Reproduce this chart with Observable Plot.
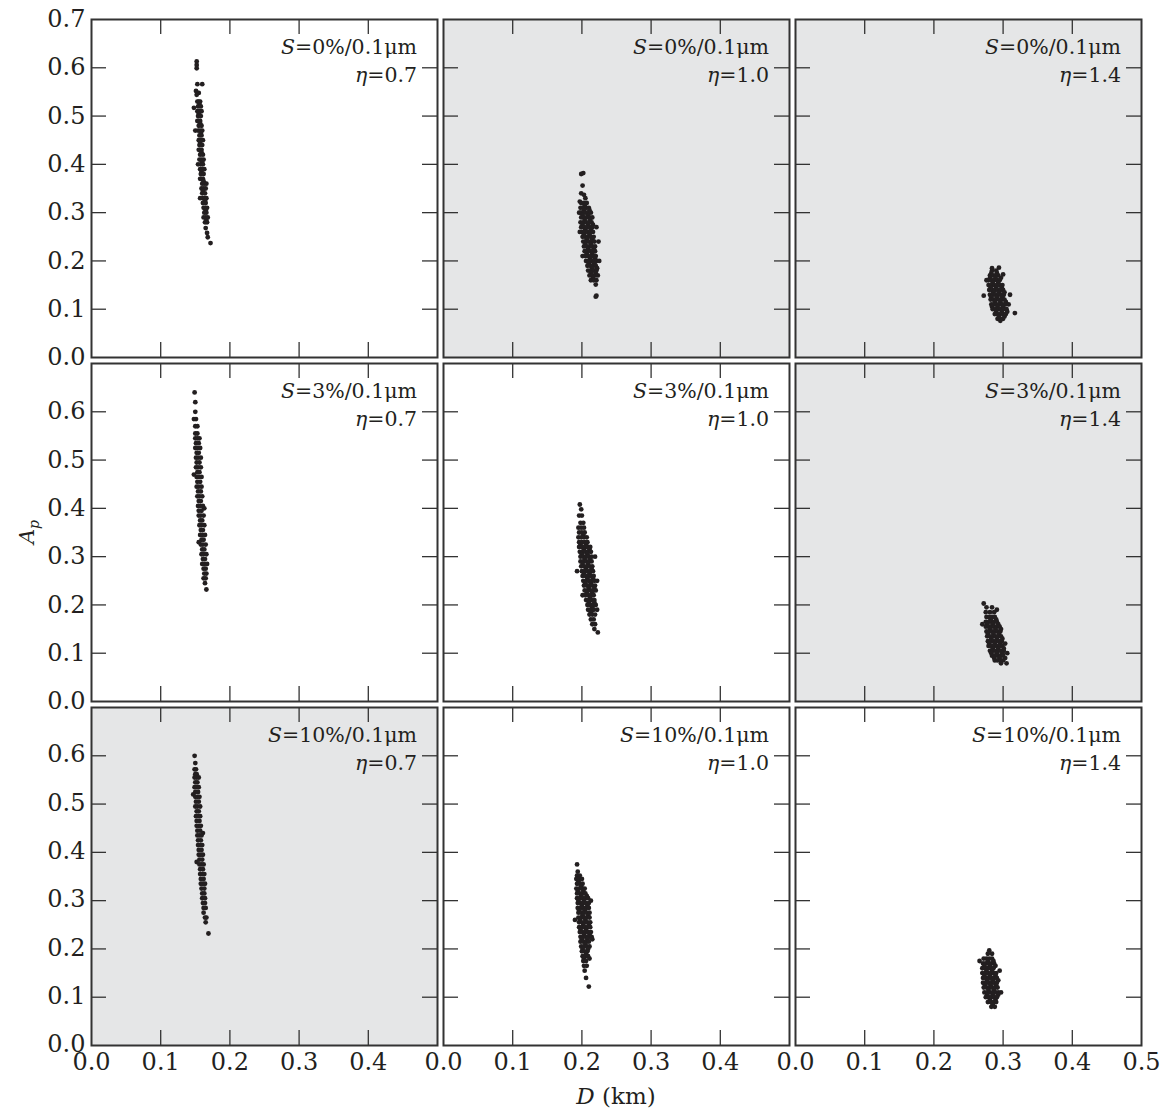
<!DOCTYPE html>
<html><head><meta charset="utf-8">
<script src="https://cdn.jsdelivr.net/npm/d3@7"></script>
<script src="https://cdn.jsdelivr.net/npm/@observablehq/plot@0.6"></script>
<style>
body{margin:0;background:#fff;}
#fig{position:relative;width:1167px;height:1113px;overflow:hidden;font-family:"DejaVu Serif",serif;}
#fig svg{position:absolute;overflow:visible;}
</style></head><body><div id="fig"></div>
<script>
// ---- data: each panel as levels [A_p, [D values (km)]] ----
const sLabels = ["0%", "3%", "10%"];      // rows
const etaLabels = ["0.7", "1.0", "1.4"];  // columns
const shaded = [[false, true, true], [false, false, true], [true, false, false]];
const xTicks = [0.1, 0.2, 0.3, 0.4];
const yTicks = [0.1, 0.2, 0.3, 0.4, 0.5, 0.6];
const xLabelsInner = [0.0, 0.1, 0.2, 0.3, 0.4];
const xLabelsLast = [0.0, 0.1, 0.2, 0.3, 0.4, 0.5];
const yLabelsTop = [0.0, 0.1, 0.2, 0.3, 0.4, 0.5, 0.6, 0.7];
const yLabelsRest = [0.0, 0.1, 0.2, 0.3, 0.4, 0.5, 0.6];

const p00 = [
 [.613,[.152]],[.606,[.152]],[.599,[.152]],[.566,[.153,.160]],[.552,[.151]],[.548,[.153,.155]],[.544,[.152]],[.517,[.148]],
 [.53,[.153,.157,.155]],[.525,[.156]],[.52,[.154,.158]],[.51,[.153,.156,.159]],[.505,[.155]],[.50,[.154,.158]],
 [.49,[.155,.157,.153]],[.485,[.157]],[.48,[.155,.159]],[.47,[.154,.157,.160,.150]],[.465,[.158]],[.46,[.156,.159]],
 [.45,[.155,.158,.161]],[.445,[.157]],[.44,[.156,.160]],[.43,[.157,.159,.155]],[.425,[.159]],[.42,[.157,.161]],
 [.41,[.156,.159,.162]],[.405,[.160]],[.40,[.158,.161,.154]],[.39,[.157,.160,.163]],[.385,[.159]],[.38,[.158,.162]],
 [.37,[.159,.161,.157]],[.365,[.162]],[.36,[.160,.163,.166]],[.35,[.159,.162,.165]],[.345,[.161]],[.34,[.160,.164]],
 [.33,[.161,.163,.166,.157]],[.325,[.164]],[.32,[.161,.165]],[.31,[.162,.164,.167]],[.305,[.165]],[.30,[.163,.166]],
 [.29,[.162,.165,.168]],[.285,[.166]],[.28,[.164,.167]],[.268,[.165]],[.258,[.167]],[.249,[.168]],[.237,[.172]]
];
const p01 = [
 [.382,[.202]],[.380,[.199]],[.356,[.201]],[.340,[.199]],[.337,[.203]],[.330,[.205]],[.323,[.197]],
 [.32,[.199,.203,.207]],[.315,[.204]],[.31,[.198,.202,.206,.210]],[.305,[.203,.211]],[.30,[.198,.201,.205,.209,.213,.196]],
 [.295,[.201,.209]],[.29,[.199,.203,.207,.211,.215]],[.285,[.204,.212]],[.28,[.198,.202,.206,.210,.214]],
 [.275,[.201,.209,.216]],[.27,[.199,.203,.207,.211,.215,.221]],[.265,[.205,.213]],[.26,[.200,.204,.208,.212,.216,.197]],
 [.255,[.203,.211]],[.25,[.201,.205,.209,.213,.217]],[.245,[.207,.215]],[.24,[.202,.206,.210,.214,.218,.224]],
 [.235,[.205,.213]],[.23,[.203,.207,.211,.215,.219]],[.225,[.209,.217]],[.22,[.204,.208,.212,.216,.219]],
 [.215,[.207,.215]],[.21,[.205,.209,.213,.217,.220,.201]],[.205,[.212,.219]],[.20,[.206,.210,.214,.218,.221,.225]],
 [.195,[.210,.218]],[.19,[.208,.212,.216,.220]],[.185,[.215,.222]],[.18,[.209,.213,.217,.221]],[.175,[.213,.220]],
 [.17,[.211,.215,.219,.223]],[.165,[.216]],[.16,[.213,.217,.221]],[.151,[.220]],[.128,[.221]],[.126,[.220]]
];
const p02 = [
 [.186,[.294]],[.185,[.284]],[.18,[.284,.290]],[.175,[.283,.291]],[.172,[.300]],[.17,[.281,.285,.289,.293]],
 [.165,[.281,.289,.297]],[.16,[.279,.283,.287,.291,.295,.276]],[.155,[.285,.293]],[.15,[.279,.283,.287,.291,.295,.299]],
 [.145,[.282,.290,.298]],[.14,[.280,.284,.288,.292,.296,.300]],[.135,[.286,.294,.302]],[.13,[.281,.285,.289,.293,.297,.301,.310]],
 [.128,[.272]],[.125,[.283,.291,.299]],[.12,[.282,.286,.290,.294,.298,.302]],[.115,[.288,.296,.304]],
 [.11,[.283,.287,.291,.295,.299,.303,.308]],[.105,[.284,.292,.300]],[.10,[.285,.289,.293,.297,.301,.305]],
 [.095,[.290,.298,.306]],[.092,[.317]],[.09,[.288,.292,.296,.300,.304]],[.085,[.294,.302]],[.08,[.292,.296,.300]],[.076,[.296]]
];
const p10 = [
 [.640,[.149]],[.620,[.150]],[.600,[.150]],[.585,[.151,.148]],[.570,[.150,.153]],[.555,[.150,.153]],[.545,[.150,.153,.156]],[.535,[.151,.155]],
 [.525,[.150,.153,.157]],[.515,[.152,.155]],[.505,[.151,.154,.158]],[.495,[.152,.156]],[.485,[.151,.154,.158]],
 [.475,[.153,.156]],[.47,[.148]],[.465,[.152,.155,.159]],[.455,[.153,.157]],[.445,[.152,.155,.159]],[.435,[.154,.158]],
 [.425,[.153,.156,.160]],[.415,[.155,.158]],[.405,[.154,.157,.161]],[.40,[.163]],[.395,[.155,.159]],[.385,[.155,.158,.162]],
 [.375,[.157,.160]],[.365,[.156,.159,.163]],[.355,[.158,.161]],[.345,[.157,.160,.164]],[.335,[.159,.162]],[.33,[.155]],
 [.325,[.158,.161,.165]],[.315,[.160,.163]],[.305,[.159,.162,.166]],[.295,[.161,.164]],[.285,[.160,.163,.167]],
 [.275,[.162,.165]],[.265,[.163,.166]],[.255,[.162,.165]],[.245,[.164]],[.232,[.166]]
];
const p11 = [
 [.408,[.197]],[.398,[.199]],[.385,[.196,.200]],[.37,[.198,.202]],[.36,[.195,.199,.203]],[.35,[.196,.200,.204]],[.345,[.202]],
 [.34,[.195,.199,.203,.207]],[.33,[.196,.200,.204,.208]],[.325,[.198,.206]],[.32,[.196,.200,.204,.208,.212]],[.315,[.203,.211]],
 [.31,[.197,.201,.205,.209,.213]],[.305,[.200,.208]],[.30,[.198,.202,.206,.210,.214,.219]],[.295,[.204,.212]],
 [.29,[.198,.202,.206,.210,.214]],[.285,[.201,.209]],[.28,[.199,.203,.207,.211,.215]],[.275,[.206,.214]],
 [.27,[.200,.204,.208,.212,.216,.193]],[.265,[.203,.211]],[.26,[.201,.205,.209,.213,.217]],[.255,[.208,.216]],
 [.25,[.202,.206,.210,.214,.218,.222]],[.245,[.205,.213]],[.24,[.203,.207,.211,.215,.219]],[.235,[.210,.218]],
 [.23,[.204,.208,.212,.216,.220]],[.225,[.207,.215]],[.22,[.205,.209,.213,.217,.201]],[.215,[.212]],
 [.21,[.206,.210,.214,.218]],[.205,[.210,.218]],[.20,[.208,.212,.216,.220]],[.195,[.215]],[.19,[.209,.213,.217,.222]],
 [.185,[.213]],[.18,[.211,.215,.219]],[.17,[.213,.217]],[.16,[.215,.219]],[.15,[.218]],[.143,[.223]]
];
const p12 = [
 [.203,[.272]],[.195,[.276,.284]],[.19,[.291]],[.185,[.275,.281,.287]],[.175,[.276,.280,.284,.288]],[.17,[.282,.290]],
 [.165,[.275,.279,.283,.287,.291]],[.16,[.277,.285,.293,.270]],[.155,[.275,.279,.283,.287,.291,.295]],[.15,[.281,.289,.297]],
 [.145,[.276,.280,.284,.288,.292,.296]],[.14,[.278,.286,.294]],[.135,[.277,.281,.285,.289,.293,.297]],[.13,[.283,.291,.299]],
 [.125,[.278,.282,.286,.290,.294,.298]],[.12,[.280,.288,.296,.303]],[.115,[.279,.283,.287,.291,.295,.299]],
 [.11,[.285,.293,.301]],[.105,[.281,.285,.289,.293,.297,.301]],[.10,[.283,.291,.299,.306]],[.095,[.284,.288,.292,.296,.300]],
 [.09,[.287,.295,.303]],[.085,[.288,.292,.296,.300]],[.079,[.297,.305]]
];
const p20 = [
 [.600,[.149]],[.585,[.150]],[.572,[.149,.151]],[.562,[.150,.152]],[.555,[.149,.152,.155]],[.545,[.150,.153]],
 [.535,[.149,.152,.155]],[.525,[.150,.154]],[.52,[.147]],[.515,[.150,.153,.156]],[.505,[.151,.155]],[.495,[.150,.153,.157]],
 [.485,[.152,.155]],[.475,[.151,.154,.157]],[.465,[.152,.156]],[.455,[.152,.155,.158]],[.445,[.153,.157]],[.44,[.161]],
 [.435,[.153,.156,.159]],[.425,[.154,.158]],[.415,[.154,.157,.160]],[.405,[.155,.159]],[.395,[.155,.158,.161]],
 [.385,[.156,.160]],[.38,[.152]],[.375,[.156,.159,.162]],[.365,[.157,.161]],[.355,[.157,.160,.163]],[.345,[.158,.162]],
 [.335,[.158,.161,.164]],[.325,[.159,.163]],[.315,[.160,.163]],[.305,[.160,.164]],[.295,[.161,.164]],[.285,[.162,.165]],
 [.275,[.162]],[.265,[.164,.166]],[.255,[.165]],[.232,[.169]]
];
const p21 = [
 [.375,[.193]],[.360,[.194]],[.352,[.193,.197]],[.345,[.192,.196,.200]],[.34,[.195]],[.335,[.193,.197,.201]],[.33,[.199]],
 [.325,[.192,.196,.200,.204]],[.32,[.194,.202]],[.315,[.193,.197,.201,.205]],[.31,[.199,.207]],
 [.305,[.193,.197,.201,.205,.209]],[.30,[.195,.203,.213]],[.295,[.194,.198,.202,.206,.210]],[.29,[.200,.208]],
 [.285,[.194,.198,.202,.206,.210]],[.28,[.196,.204]],[.275,[.195,.199,.203,.207,.211]],[.27,[.201,.209]],
 [.265,[.195,.199,.203,.207,.211]],[.26,[.197,.205,.190]],[.255,[.196,.200,.204,.208,.212]],[.25,[.202,.210]],
 [.245,[.196,.200,.204,.208,.212]],[.24,[.198,.206]],[.235,[.197,.201,.205,.209,.213]],[.23,[.203,.211]],
 [.225,[.198,.202,.206,.210,.214]],[.22,[.200,.208,.215]],[.215,[.198,.202,.206,.210]],[.21,[.205]],
 [.205,[.199,.203,.207,.211]],[.20,[.201,.209]],[.195,[.200,.204,.208]],[.19,[.206]],[.185,[.201,.205,.209]],
 [.18,[.203,.211]],[.175,[.202,.206]],[.165,[.203,.207]],[.155,[.204]],[.14,[.206]],[.122,[.210]]
];
const p22 = [
 [.197,[.280]],[.19,[.278,.284]],[.18,[.272,.276,.280,.284]],[.175,[.278,.286,.266]],[.17,[.271,.275,.279,.283,.287]],
 [.165,[.273,.281,.289]],[.16,[.270,.274,.278,.282,.286]],[.155,[.276,.284,.295]],[.15,[.270,.274,.278,.282,.286,.290]],
 [.145,[.273,.281,.289]],[.14,[.271,.275,.279,.283,.287,.291]],[.135,[.277,.285,.293]],[.13,[.271,.275,.279,.283,.287,.291]],
 [.125,[.274,.282,.290]],[.12,[.272,.276,.280,.284,.288,.292]],[.115,[.279,.287]],[.11,[.273,.277,.281,.285,.289,.293,.297]],
 [.105,[.277,.285,.293]],[.10,[.275,.279,.283,.287,.291]],[.095,[.281,.289]],[.09,[.278,.282,.286,.290]],[.085,[.285]],
 [.08,[.283,.288]]
];
const panels = [[p00, p01, p02], [p10, p11, p12], [p20, p21, p22]];

// ---- layout ----
const W = 346, H = 338, TL = 15;
const colLeft = [91, 443, 795];
const rowTop = [19, 363, 707];
const ML = 70, MR = 30, MT = 15, MB = 45;
const ink = "#231f20", frameInk = "#333333", grey = "#e5e6e7";
const FONT = "DejaVu Serif";

const fig = document.getElementById("fig");

for (let r = 0; r < 3; r++) {
  for (let c = 0; c < 3; c++) {
    const pts = panels[r][c].flatMap(([A, Ds]) => Ds.map(D => ({D, A})));
    const marks = [
      Plot.frame({fill: shaded[r][c] ? grey : "white", stroke: null}),
      Plot.dot(pts, {x: "D", y: "A", r: 2.4, fill: ink, stroke: null}),
      Plot.tickX(xTicks, {x: d => d, insetTop: H - TL, stroke: frameInk, strokeWidth: 1.3}),
      Plot.tickX(xTicks, {x: d => d, insetBottom: H - TL, stroke: frameInk, strokeWidth: 1.3}),
      Plot.tickY(yTicks, {y: d => d, insetRight: W - TL, stroke: frameInk, strokeWidth: 1.3}),
      Plot.tickY(yTicks, {y: d => d, insetLeft: W - TL, stroke: frameInk, strokeWidth: 1.3}),
      Plot.frame({stroke: frameInk, strokeWidth: 2})
    ];
    if (r === 2) {
      marks.push(Plot.text(c === 2 ? xLabelsLast : xLabelsInner, {
        x: d => d, text: d => d.toFixed(1), frameAnchor: "bottom", lineAnchor: "top",
        dy: 7, fontSize: 24, fill: ink
      }));
    }
    if (c === 0) {
      marks.push(Plot.text(r === 0 ? yLabelsTop : yLabelsRest, {
        y: d => d, text: d => d.toFixed(1), frameAnchor: "left", textAnchor: "end",
        dx: -6, dy: (r === 2 ? -1 : 0), fontSize: 24, fill: ink
      }));
    }
    const svg = Plot.plot({
      width: W + ML + MR, height: H + MT + MB,
      marginLeft: ML, marginRight: MR, marginTop: MT, marginBottom: MB,
      x: {domain: [0, 0.5], axis: null},
      y: {domain: [0, 0.7], axis: null},
      style: {background: "transparent", fontFamily: FONT, fontSize: "24px", color: ink},
      marks
    });
    svg.style.left = (colLeft[c] - ML) + "px";
    svg.style.top = (rowTop[r] - MT) + "px";
    const s = d3.select(svg);
    const t1 = s.append("text").attr("x", ML + W - 20).attr("y", MT + 35)
      .attr("text-anchor", "end").attr("font-size", 20.5).attr("font-family", FONT).attr("fill", ink);
    t1.append("tspan").attr("font-style", "italic").text("S");
    t1.append("tspan").text("=" + sLabels[r] + "/0.1μm");
    const t2 = s.append("text").attr("x", ML + W - 20).attr("y", MT + 63)
      .attr("text-anchor", "end").attr("font-size", 20.5).attr("font-family", FONT).attr("fill", ink);
    t2.append("tspan").attr("font-style", "italic").text("η");
    t2.append("tspan").text("=" + etaLabels[c]);
    fig.appendChild(svg);
  }
}

// axis titles
const over = d3.select(fig).append("svg").attr("width", 1167).attr("height", 1113)
  .style("left", "0px").style("top", "0px").style("pointer-events", "none");
const xt = over.append("text").attr("x", 616).attr("y", 1104).attr("text-anchor", "middle")
  .attr("font-size", 23).attr("font-family", FONT).attr("fill", ink);
xt.append("tspan").attr("font-style", "italic").text("D");
xt.append("tspan").text(" (km)");
const yt = over.append("text").attr("transform", "translate(34,532) rotate(-90)").attr("text-anchor", "middle")
  .attr("font-size", 21).attr("font-family", FONT).attr("fill", ink);
yt.append("tspan").attr("font-style", "italic").text("A");
yt.append("tspan").attr("font-style", "italic").attr("font-size", 14).attr("dy", 5).text("p");
</script></body></html>
